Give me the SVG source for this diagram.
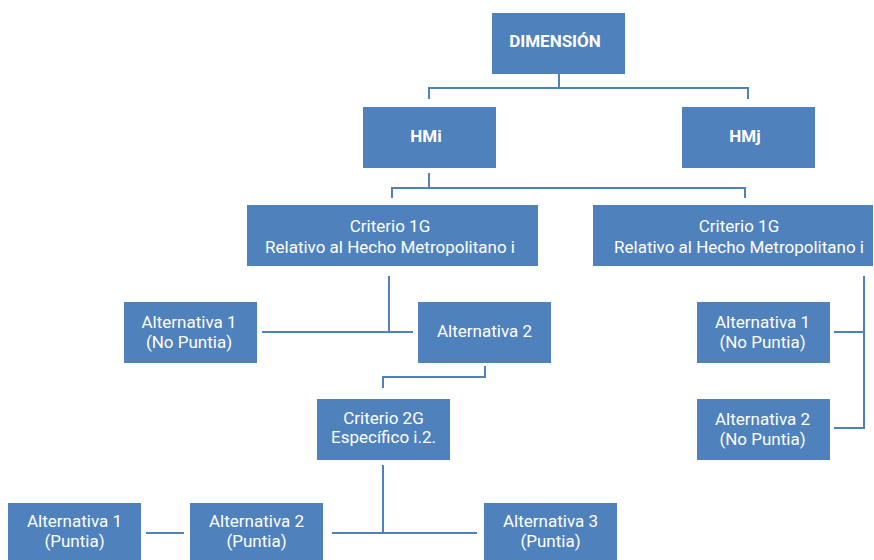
<svg xmlns="http://www.w3.org/2000/svg" width="874" height="560" viewBox="0 0 874 560">
<style>
.box{fill:#4F81BD}
.t{font-family:Roboto,"Liberation Sans",sans-serif;font-size:17px;fill:#FFFFFF;text-anchor:middle}
.b{font-weight:bold;font-size:17px}
.c{fill:none;stroke:#4F81BD;stroke-width:2}
</style>
<rect width="874" height="560" fill="#FFFFFF"/>
<g id="connectors">
<path class="c" d="M559 74V88M429 99V88H748V99"/>
<path class="c" d="M429 173V188M392 198V188H745V198"/>
<path class="c" d="M389 276V332M262 332H413"/>
<path class="c" d="M485 366V377H383V388"/>
<path class="c" d="M383 465V533M332 533H477"/>
<path class="c" d="M146 533H184"/>
<path class="c" d="M864 276V428H834M834 332H864"/>
</g>
<g id="dimension"><rect class="box" x="492" y="13" width="133" height="61"/><text class="t b" x="555" y="47">DIMENSIÓN</text></g>
<g id="hmi"><rect class="box" x="363" y="107" width="133" height="61"/><text class="t b" x="426" y="142">HMi</text></g>
<g id="hmj"><rect class="box" x="682" y="107" width="133" height="61"/><text class="t b" x="745" y="142">HMj</text></g>
<g id="criterio1g-i"><rect class="box" x="247" y="205" width="291" height="61"/><text class="t" x="390" y="232">Criterio 1G</text><text class="t" x="390" y="252.5">Relativo al Hecho Metropolitano i</text></g>
<g id="criterio1g-j"><rect class="box" x="593" y="205" width="280" height="61"/><text class="t" x="739" y="232">Criterio 1G</text><text class="t" x="739" y="252.5">Relativo al Hecho Metropolitano i</text></g>
<g id="alt1-nopuntia-i"><rect class="box" x="124" y="302" width="133" height="61"/><text class="t" x="189" y="328">Alternativa 1</text><text class="t" x="189" y="348">(No Puntia)</text></g>
<g id="alt2-i"><rect class="box" x="418" y="302" width="133" height="61"/><text class="t" x="484.5" y="337">Alternativa 2</text></g>
<g id="alt1-nopuntia-j"><rect class="box" x="697" y="302" width="133" height="61"/><text class="t" x="762.5" y="328">Alternativa 1</text><text class="t" x="762.5" y="348">(No Puntia)</text></g>
<g id="alt2-nopuntia-j"><rect class="box" x="697" y="399" width="133" height="61"/><text class="t" x="762.5" y="425">Alternativa 2</text><text class="t" x="762.5" y="445">(No Puntia)</text></g>
<g id="criterio2g"><rect class="box" x="317" y="399" width="133" height="61"/><text class="t" x="383.5" y="424">Criterio 2G</text><text class="t" x="383.5" y="443">Específico i.2.</text></g>
<g id="alt1-puntia"><rect class="box" x="8" y="503" width="133" height="61"/><text class="t" x="74.5" y="527">Alternativa 1</text><text class="t" x="74.5" y="547">(Puntia)</text></g>
<g id="alt2-puntia"><rect class="box" x="190" y="503" width="133" height="61"/><text class="t" x="256.5" y="527">Alternativa 2</text><text class="t" x="256.5" y="547">(Puntia)</text></g>
<g id="alt3-puntia"><rect class="box" x="484" y="503" width="133" height="61"/><text class="t" x="550.5" y="527">Alternativa 3</text><text class="t" x="550.5" y="547">(Puntia)</text></g>
</svg>
